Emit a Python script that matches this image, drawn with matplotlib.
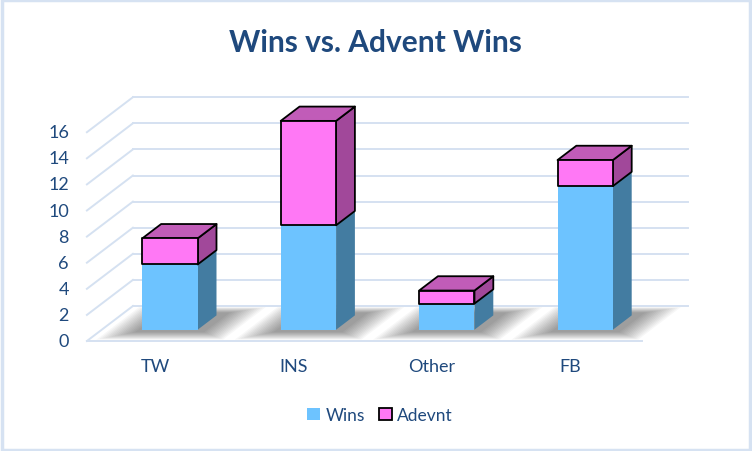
import matplotlib.pyplot as plt
from matplotlib.patches import Polygon, Rectangle, Patch

categories = ['TW', 'INS', 'Other', 'FB']
wins = [5, 8, 2, 11]
adevnt = [2, 8, 1, 2]
yticks = [0, 2, 4, 6, 8, 10, 12, 14, 16]

plt.rcParams['font.family'] = ['Lato', 'DejaVu Sans']
txt_color = '#1F497D'
grid_color = '#D5E1F1'

# oblique projection: one unit of depth moves (DX, DY) in data units
DX, DY = 0.3324, 2.682
d_front, d_bar, d_wall = -0.323, 0.409, 0.677
half_w = 0.2
x_left, x_right = -0.493, 3.515

fig = plt.figure(figsize=(7.52, 4.52), dpi=100)
ax = fig.add_axes([0, 0, 1, 1])
ax.set_xlim(-1.2283, 4.2052)
ax.set_ylim(-9.295, 25.341)
ax.axis('off')


def proj(x, v, d):
    return (x + d * DX, v + d * DY)


# back wall and left wall gridlines
for v in yticks:
    ax.plot(*zip(proj(x_left, v, d_wall), proj(x_right, v, d_wall)),
            color=grid_color, lw=1.4, zorder=1)
    ax.plot(*zip(proj(x_left, v, d_front), proj(x_left, v, d_wall)),
            color=grid_color, lw=1.4, zorder=1)
    ax.text(proj(x_left, v, d_front)[0] - 0.13, proj(x_left, v, d_front)[1], str(v),
            ha='right', va='center', fontsize=13, color=txt_color)
ax.plot(*zip(proj(x_left, 0, d_front), proj(x_right, 0, d_front)),
        color=grid_color, lw=1.4, zorder=1)

# soft shadows on the floor
for i in range(len(categories)):
    for k in range(14):
        e = 0.016 * k
        ed = 0.03 * k
        poly = [proj(i - half_w - 0.03 - e, 0, -0.07 - ed * 0.55),
                proj(i + half_w + 0.07 + e, 0, -0.07 - ed * 0.55),
                proj(i + half_w + 0.07 + e, 0, d_bar + 0.08 + ed * 0.4),
                proj(i - half_w - 0.03 - e, 0, d_bar + 0.08 + ed * 0.4)]
        ax.add_patch(Polygon(poly, closed=True, facecolor='black', edgecolor='none',
                             alpha=0.03, zorder=2))


def draw_box(xc, v0, v1, front, side, top, edge, z):
    xl, xr = xc - half_w, xc + half_w
    lw = 1.3 if edge != 'none' else 0
    ax.add_patch(Polygon([proj(xr, v0, 0), proj(xr, v0, d_bar), proj(xr, v1, d_bar), proj(xr, v1, 0)],
                         facecolor=side, edgecolor=edge, lw=lw, joinstyle='round', zorder=z))
    ax.add_patch(Polygon([proj(xl, v1, 0), proj(xr, v1, 0), proj(xr, v1, d_bar), proj(xl, v1, d_bar)],
                         facecolor=top, edgecolor=edge, lw=lw, joinstyle='round', zorder=z))
    ax.add_patch(Polygon([proj(xl, v0, 0), proj(xr, v0, 0), proj(xr, v1, 0), proj(xl, v1, 0)],
                         facecolor=front, edgecolor=edge, lw=lw, joinstyle='round', zorder=z))


for i, (w, a) in enumerate(zip(wins, adevnt)):
    draw_box(i, 0, w, '#6DC3FF', '#437CA1', '#5AA0D0', 'none', 3)
    draw_box(i, w, w + a, '#FF78F5', '#A1489A', '#C15CB8', 'black', 4)
    ax.text(proj(i, 0, d_front)[0], -2.78, categories[i], ha='center', va='center',
            fontsize=13, color=txt_color)

fig.text(0.4987, 0.905, 'Wins vs. Advent Wins', ha='center', va='center',
         fontsize=21.5, fontweight='bold', color=txt_color)

handles = [Patch(facecolor='#6DC3FF', edgecolor='none', label='Wins'),
           Patch(facecolor='#FF78F5', edgecolor='black', lw=1.3, label='Adevnt')]
fig.legend(handles=handles, loc='center', bbox_to_anchor=(380 / 752, 1 - 416 / 452),
           ncol=2, frameon=False, handlelength=0.75, handleheight=0.75,
           handletextpad=0.3, columnspacing=0.8, labelcolor=txt_color,
           prop={'size': 12.5})

fig.add_artist(Rectangle((0.002, 0.003), 0.996, 0.994, transform=fig.transFigure,
                         fill=False, edgecolor='#D6E2F2', lw=2.5))

fig.savefig('out.png', dpi=100)
